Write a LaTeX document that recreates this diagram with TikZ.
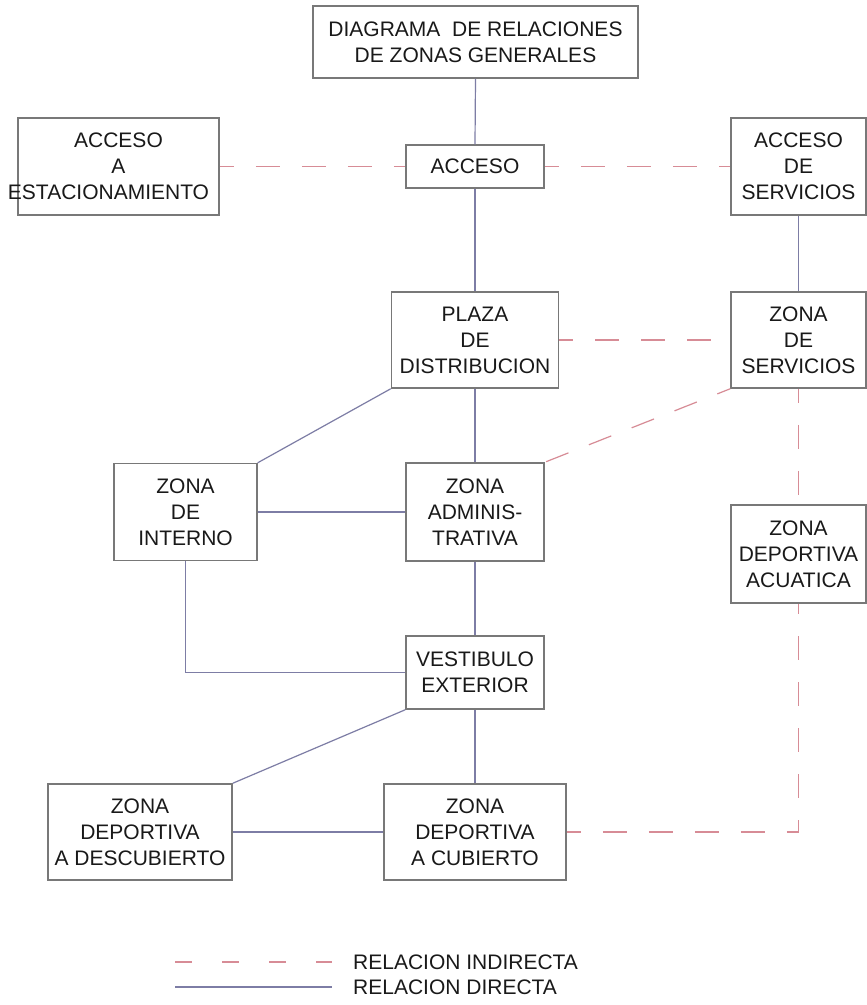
\documentclass[tikz,border=0pt]{standalone}
\usepackage{fontspec}
\setmainfont{Liberation Sans}
\definecolor{framegray}{RGB}{120,120,120}
\definecolor{directblue}{RGB}{125,125,165}
\definecolor{indirectpink}{RGB}{215,140,150}
\definecolor{inkgray}{RGB}{25,25,25}
\begin{document}
\begin{tikzpicture}[x=1pt,y=-1pt,
  zone/.style={draw=framegray, line width=1.5pt, inner sep=0pt, align=center,
    text=inkgray, font=\fontsize{21}{26}\selectfont},
  legendtext/.style={inner sep=0pt, anchor=west, text=inkgray,
    font=\fontsize{21}{26}\selectfont},
  direct/.style={draw=directblue, line width=1.2pt},
  indirect/.style={draw=indirectpink, line width=1.2pt,
    dash pattern=on 24pt off 22pt, dash phase=10pt},
  indirectkey/.style={draw=indirectpink, line width=1.2pt,
    dash pattern=on 17pt off 30pt}]

% page
\fill[white] (0,0) rectangle (867,1005);
\useasboundingbox (0,0) rectangle (867,1005);

% zones
\node[zone, minimum width=325pt, minimum height=72pt] (title) at (475.5,42)
  {DIAGRAMA\ \ DE RELACIONES\\DE ZONAS GENERALES};
\node[zone, minimum width=201pt, minimum height=97pt] (park) at (118.5,166.5)
  {ACCESO\\A\\\makebox[0pt]{\hspace*{-20pt}ESTACIONAMIENTO}};
\node[zone, minimum width=138pt, minimum height=43pt] (entry) at (475,166.5) {ACCESO};
\node[zone, minimum width=135pt, minimum height=97pt] (servacc) at (798.5,166.5)
  {ACCESO\\DE\\SERVICIOS};
\node[zone, minimum width=167pt, minimum height=96pt] (plaza) at (475,340)
  {PLAZA\\DE\\DISTRIBUCION};
\node[zone, minimum width=135pt, minimum height=96pt] (serv) at (798.5,340)
  {ZONA\\DE\\SERVICIOS};
\node[zone, minimum width=143pt, minimum height=97pt] (intern) at (185.5,512)
  {ZONA\\DE\\INTERNO};
\node[zone, minimum width=138pt, minimum height=98pt] (admin) at (475,512)
  {ZONA\\ADMINIS-\\TRATIVA};
\node[zone, minimum width=135pt, minimum height=98pt] (aqua) at (798.5,554)
  {ZONA\\DEPORTIVA\\ACUATICA};
\node[zone, minimum width=138pt, minimum height=73pt] (hall) at (475,672.5)
  {VESTIBULO\\EXTERIOR};
\node[zone, minimum width=184pt, minimum height=96pt] (open) at (140,832)
  {ZONA\\DEPORTIVA\\A DESCUBIERTO};
\node[zone, minimum width=182pt, minimum height=96pt] (covered) at (475,832)
  {ZONA\\DEPORTIVA\\A CUBIERTO};

% direct relations
\draw[direct] (title.south) -- (entry.north);
\draw[direct] (entry.south) -- (plaza.north);
\draw[direct] (servacc.south) -- (serv.north);
\draw[direct] (plaza.south west) -- (intern.north east);
\draw[direct] (plaza.south) -- (admin.north);
\draw[direct] (intern.east) -- (admin.west);
\draw[direct] (intern.south) |- (hall.west);
\draw[direct] (admin.south) -- (hall.north);
\draw[direct] (hall.south west) -- (open.north east);
\draw[direct] (hall.south) -- (covered.north);
\draw[direct] (open.east) -- (covered.west);

% indirect relations
\draw[indirect] (park.east) -- (entry.west);
\draw[indirect] (entry.east) -- (servacc.west);
\draw[indirect] (plaza.east) -- (serv.west);
\draw[indirect] (serv.south west) -- (admin.north east);
\draw[indirect] (serv.south) -- (aqua.north);
\draw[indirect] (covered.east) -| (aqua.south);

% legend
\coordinate (ka) at (175,962);
\coordinate (kb) at (332,962);
\coordinate (kc) at (175,987);
\coordinate (kd) at (332,987);
\draw[indirectkey] (ka) -- (kb);
\draw[direct] (kc) -- (kd);
\node[legendtext] (kind) at (353,962) {RELACION INDIRECTA};
\node[legendtext] (kdir) at (353,987) {RELACION DIRECTA};
\end{tikzpicture}
\end{document}
